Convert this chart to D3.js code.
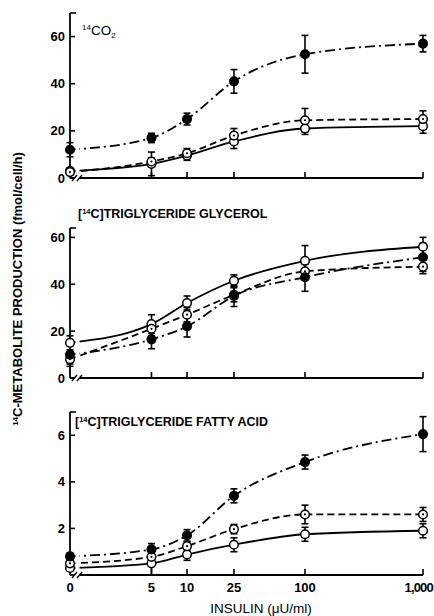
<!DOCTYPE html>
<html>
<head>
<meta charset="utf-8">
<script src="https://cdn.jsdelivr.net/npm/d3@7"></script>
<style>
  body { margin: 0; background: #fff; }
  svg { font-family: "Liberation Sans", Arial, sans-serif; }
</style>
</head>
<body>
<div id="chart"></div>
<script>
// insulin doses and tick labels
const doses = [0, 5, 10, 25, 100, 1000];
const doseLabels = ["0", "5", "10", "25", "100", "1,000"];

// 14CO2 panel
const co2Open = [3, 6, 9.5, 15.5, 21, 22];
const co2OpenErr = [1, 5, 2, 3, 2.5, 3];
const co2Dot = [2.5, 7, 10.5, 18, 24.5, 25];
const co2DotErr = [1, 1.5, 2, 3, 5, 3.5];
const co2Filled = [12, 17, 25, 41, 52.5, 57];
const co2FilledErr = [3, 2, 2.5, 5, 8, 3.5];

// triglyceride glycerol panel
const glyOpen = [15, 23, 32, 41.5, 50, 56];
const glyOpenErr = [3, 4, 3, 2.5, 6.5, 4];
const glyDot = [8, 21, 27, 35.5, 45.5, 47.5];
const glyDotErr = [3, 3, 3, 3, 3, 3];
const glyFilled = [10, 16.5, 22, 35, 43, 51.5];
const glyFilledErr = [4, 4, 4.5, 4.5, 6, 6];

// triglyceride fatty acid panel
const faOpen = [0.3, 0.5, 0.88, 1.3, 1.75, 1.9];
const faOpenErr = [0.1, 0.5, 0.25, 0.3, 0.3, 0.3];
const faDot = [0.5, 0.78, 1.24, 1.97, 2.6, 2.6];
const faDotErr = [0.1, 0.15, 0.2, 0.2, 0.4, 0.3];
const faFilled = [0.8, 1.1, 1.7, 3.4, 4.85, 6.05];
const faFilledErr = [0.15, 0.25, 0.25, 0.3, 0.3, 0.75];

const width = 434;
const height = 616;

const svg = d3.select("#chart")
    .append("svg")
    .attr("width", width)
    .attr("height", height);

// x: log scale for doses, 0 placed on the y axis behind a break
const xAxisX = 70;
const xLog = d3.scaleLog().domain([10, 1000]).range([187, 423]);
const xPos = d => d === 0 ? xAxisX : xLog(d);

// series styles
const styles = {
    open:   { dash: null,        marker: "open" },
    dot:    { dash: "7,4",       marker: "dot" },
    filled: { dash: "10,4,2,4",  marker: "filled" }
};

const panels = [
    { top: 13, bottom: 178, max: 70, ticks: [0, 20, 40, 60], tickLabels: ["0", "20", "40", "60"],
      series: [
        { kind: "open", v: co2Open, e: co2OpenErr },
        { kind: "dot", v: co2Dot, e: co2DotErr },
        { kind: "filled", v: co2Filled, e: co2FilledErr }
      ] },
    { top: 228, bottom: 378, max: 64, ticks: [0, 20, 40, 60], tickLabels: ["0", "20", "40", "60"],
      series: [
        { kind: "open", v: glyOpen, e: glyOpenErr },
        { kind: "dot", v: glyDot, e: glyDotErr },
        { kind: "filled", v: glyFilled, e: glyFilledErr }
      ] },
    { top: 412, bottom: 575, max: 7, ticks: [2, 4, 6], tickLabels: ["2", "4", "6"],
      series: [
        { kind: "open", v: faOpen, e: faOpenErr },
        { kind: "dot", v: faDot, e: faDotErr },
        { kind: "filled", v: faFilled, e: faFilledErr }
      ] }
];

const line = d3.line().curve(d3.curveMonotoneX);

panels.forEach(p => {
    const y = d3.scaleLinear().domain([0, p.max]).range([p.bottom, p.top]);
    const g = svg.append("g");

    // curves
    p.series.forEach(s => {
        const pts = doses.map((d, i) => [xPos(d), y(s.v[i])]);
        g.append("path")
            .attr("d", line(pts))
            .attr("fill", "none")
            .attr("stroke", "#000")
            .attr("stroke-width", 1.8)
            .attr("stroke-dasharray", styles[s.kind].dash);
    });

    // break gap in curves and x axis
    g.append("rect")
        .attr("x", 75.5).attr("y", p.top + 30)
        .attr("width", 4).attr("height", p.bottom - p.top - 29)
        .attr("fill", "#fff");

    // y axis
    g.append("line")
        .attr("x1", xAxisX).attr("x2", xAxisX)
        .attr("y1", p.top).attr("y2", p.bottom)
        .attr("stroke", "#000").attr("stroke-width", 1.8);
    g.append("line")
        .attr("x1", xAxisX).attr("x2", xAxisX + 6)
        .attr("y1", p.top).attr("y2", p.top)
        .attr("stroke", "#000").attr("stroke-width", 1.6);
    p.ticks.forEach((t, i) => {
        g.append("line")
            .attr("x1", xAxisX).attr("x2", xAxisX + 5)
            .attr("y1", y(t)).attr("y2", y(t))
            .attr("stroke", "#000").attr("stroke-width", 1.6);
        g.append("text")
            .attr("x", xAxisX - 5).attr("y", y(t) + 4.5)
            .attr("text-anchor", "end")
            .attr("font-size", 13).attr("font-weight", "bold")
            .text(p.tickLabels[i]);
    });

    // x axis with break
    g.append("line")
        .attr("x1", xAxisX).attr("x2", 75)
        .attr("y1", p.bottom).attr("y2", p.bottom)
        .attr("stroke", "#000").attr("stroke-width", 1.8);
    g.append("line")
        .attr("x1", 80).attr("x2", xLog(1000))
        .attr("y1", p.bottom).attr("y2", p.bottom)
        .attr("stroke", "#000").attr("stroke-width", 1.8);
    [74.5, 79.5].forEach(bx => {
        g.append("line")
            .attr("x1", bx - 2.5).attr("x2", bx + 2.5)
            .attr("y1", p.bottom + 3).attr("y2", p.bottom - 3)
            .attr("stroke", "#000").attr("stroke-width", 1.4);
    });
    doses.filter(d => d > 0).forEach(d => {
        g.append("line")
            .attr("x1", xLog(d)).attr("x2", xLog(d))
            .attr("y1", p.bottom).attr("y2", p.bottom - 6)
            .attr("stroke", "#000").attr("stroke-width", 1.6);
    });

    // error bars and markers
    p.series.forEach(s => {
        doses.forEach((d, i) => {
            const cx = xPos(d);
            const v = s.v[i], e = s.e[i];
            const y1 = y(Math.max(0, v - e)), y2 = y(v + e);
            g.append("line")
                .attr("x1", cx).attr("x2", cx).attr("y1", y1).attr("y2", y2)
                .attr("stroke", "#000").attr("stroke-width", 1.6);
            [y1, y2].forEach(yy => {
                g.append("line")
                    .attr("x1", cx - 3.5).attr("x2", cx + 3.5).attr("y1", yy).attr("y2", yy)
                    .attr("stroke", "#000").attr("stroke-width", 1.6);
            });
        });
    });
    p.series.forEach(s => {
        doses.forEach((d, i) => {
            const cx = xPos(d), cy = y(s.v[i]);
            const m = styles[s.kind].marker;
            g.append("circle")
                .attr("cx", cx).attr("cy", cy).attr("r", 4.3)
                .attr("fill", m === "filled" ? "#000" : "#fff")
                .attr("stroke", "#000").attr("stroke-width", 1.5);
            if (m === "dot") {
                g.append("circle")
                    .attr("cx", cx).attr("cy", cy).attr("r", 1.1)
                    .attr("fill", "#000");
            }
        });
    });
});

// panel titles
const co2Title = svg.append("text").attr("x", 82).attr("y", 35).attr("font-size", 13.5);
co2Title.append("tspan").attr("font-size", 8).attr("dy", -5).text("14");
co2Title.append("tspan").attr("dy", 5).text("CO");
co2Title.append("tspan").attr("font-size", 8).attr("dy", 3).text("2");

function bracketTitle(x, yy, rest) {
    const t = svg.append("text").attr("x", x).attr("y", yy)
        .attr("font-size", 12.5).attr("font-weight", "bold");
    t.append("tspan").text("[");
    t.append("tspan").attr("font-size", 7.5).attr("dy", -4).text("14");
    t.append("tspan").attr("dy", 4).text("C]" + rest);
}
bracketTitle(78, 218, "TRIGLYCERIDE GLYCEROL");
bracketTitle(75, 426, "TRIGLYCERIDE FATTY ACID");

// x tick labels
doses.forEach((d, i) => {
    const last = i === doses.length - 1;
    svg.append("text")
        .attr("x", last ? 433 : xPos(d)).attr("y", 592)
        .attr("text-anchor", last ? "end" : "middle")
        .attr("letter-spacing", last ? -0.8 : 0)
        .attr("font-size", 13).attr("font-weight", "bold")
        .text(doseLabels[i]);
});

// axis titles
svg.append("text")
    .attr("x", 261).attr("y", 613)
    .attr("text-anchor", "middle")
    .attr("font-size", 13.5)
    .text("INSULIN (\u03bcU/ml)");

const yTitle = svg.append("text")
    .attr("transform", "translate(22,289) rotate(-90)")
    .attr("text-anchor", "middle")
    .attr("font-size", 13).attr("font-weight", "bold");
yTitle.append("tspan").attr("font-size", 8).attr("dy", -4).text("14");
yTitle.append("tspan").attr("dy", 4).text("C-METABOLITE PRODUCTION (fmol/cell/h)");
</script>
</body>
</html>
